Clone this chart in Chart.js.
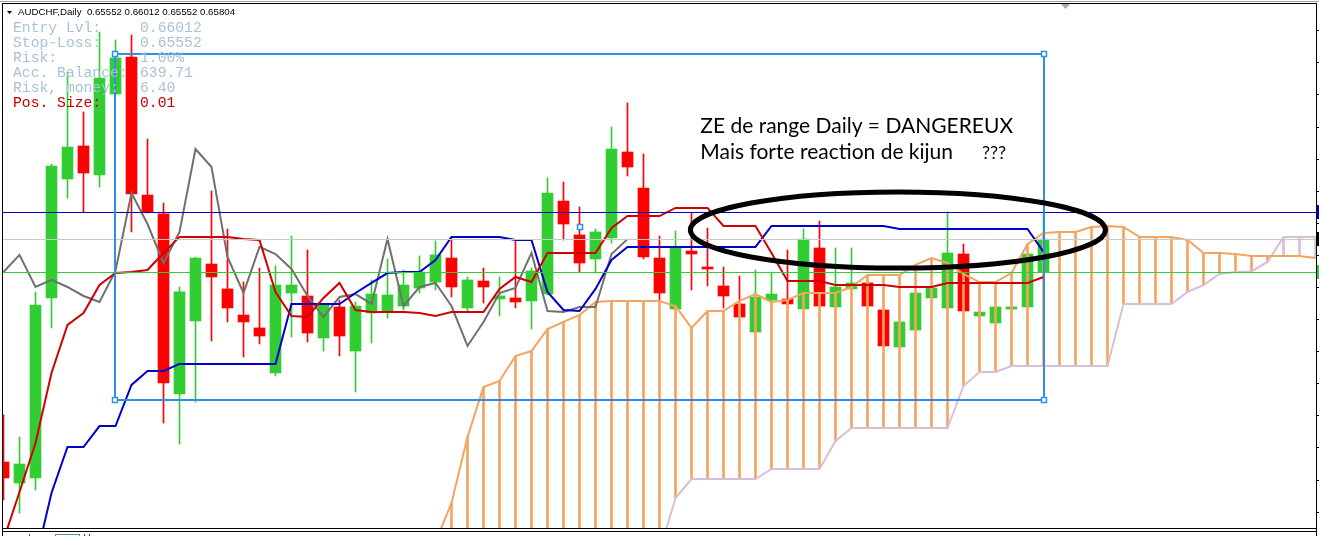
<!DOCTYPE html>
<html>
<head>
<meta charset="utf-8">
<title>AUDCHF,Daily</title>
<script src="https://cdn.jsdelivr.net/npm/chart.js@4.4.1/dist/chart.umd.min.js"></script>
<style>
  html, body { margin: 0; padding: 0; background: #fff; }
  #wrap { width: 1319px; height: 536px; position: relative; }
</style>
</head>
<body>
<div id="wrap"><canvas id="chart" width="1319" height="536"></canvas></div>
<script>
// AUDCHF Daily - candles + Ichimoku, with position size panel and notes

const symbolTitle = 'AUDCHF,Daily';
const lastBarOHLC = ['0.65552', '0.66012', '0.65552', '0.65804'];

// one entry per daily bar (oldest visible bar first)
const openPrices = [0.64095,0.63934,0.63973,0.65353,0.66265,0.66518,0.66296,0.66917,0.67200,0.66142,
  0.65997,0.64617,0.65176,0.65613,0.65422,0.65222,0.65123,0.64778,0.65391,0.65368,
  0.65046,0.65284,0.64946,0.65238,0.65253,0.65291,0.65429,0.65475,0.65659,0.65276,
  0.65483,0.65345,0.65353,0.65330,0.65383,0.66096,0.65836,0.65652,0.65813,0.66472,
  0.66196,0.65659,0.65268,0.65713,0.65590,0.65445,0.65307,0.65092,0.65337,0.65345,
  0.65268,0.65736,0.65284,0.65422,0.65468,0.65261,0.64977,0.65107,0.65353,0.65276,
  0.65690,0.65215,0.65161,0.65268,0.65284,0.65552];
const highPrices = [0.64456,0.64286,0.65399,0.66380,0.67085,0.66779,0.67392,0.67331,0.67369,0.66572,
  0.66081,0.65437,0.65667,0.66173,0.65882,0.65475,0.65583,0.65598,0.65828,0.65721,
  0.65307,0.65337,0.65322,0.65491,0.65652,0.65567,0.65675,0.65790,0.65821,0.65514,
  0.65583,0.65514,0.65797,0.65583,0.66273,0.66242,0.66050,0.65882,0.66664,0.66848,
  0.66457,0.65828,0.65866,0.66004,0.65889,0.65590,0.65521,0.65567,0.65552,0.65721,
  0.65882,0.65943,0.65736,0.65736,0.65483,0.65261,0.65169,0.65391,0.65429,0.66012,
  0.65767,0.65245,0.65284,0.65284,0.65690,0.66012];
const lowPrices = [0.63804,0.63704,0.63881,0.65123,0.66119,0.66012,0.66204,0.66909,0.65859,0.66004,
  0.64394,0.64233,0.64555,0.65023,0.65169,0.64900,0.65000,0.64755,0.65054,0.65015,
  0.64946,0.64908,0.64632,0.65008,0.65199,0.65261,0.65391,0.65414,0.65360,0.65245,
  0.65314,0.65215,0.65276,0.65115,0.65376,0.65797,0.65552,0.65544,0.65774,0.66288,
  0.65652,0.65337,0.65268,0.65414,0.65445,0.65276,0.65207,0.65092,0.65322,0.65299,
  0.65268,0.65291,0.65284,0.65414,0.65291,0.64985,0.64977,0.65107,0.65353,0.65276,
  0.65253,0.65215,0.65161,0.65268,0.65284,0.65552];
const closePrices = [0.63973,0.64080,0.65299,0.66365,0.66510,0.66311,0.67039,0.67193,0.66150,0.66012,
  0.64701,0.65399,0.65659,0.65514,0.65276,0.65169,0.65061,0.65452,0.65452,0.65084,
  0.65299,0.65061,0.65291,0.65383,0.65376,0.65452,0.65552,0.65683,0.65437,0.65491,
  0.65437,0.65368,0.65322,0.65560,0.66158,0.65920,0.65621,0.65859,0.66495,0.66357,
  0.65667,0.65391,0.65744,0.65690,0.65575,0.65368,0.65207,0.65360,0.65383,0.65307,
  0.65805,0.65291,0.65437,0.65468,0.65291,0.64985,0.65169,0.65391,0.65429,0.65698,
  0.65253,0.65245,0.65284,0.65284,0.65690,0.65804];

// Ichimoku lines
const tenkanSen = [0.63497,0.63865,0.64241,0.64778,0.65146,0.65238,0.65452,0.65544,0.65552,0.65567,
  0.65698,0.65821,0.65821,0.65821,0.65821,0.65805,0.65797,0.65399,0.65215,0.65207,
  0.65353,0.65468,0.65261,0.65245,0.65245,0.65245,0.65238,0.65215,0.65245,0.65245,
  0.65245,0.65422,0.65514,0.65475,0.65698,0.65698,0.65698,0.65698,0.65889,0.65981,
  0.65981,0.65981,0.66043,0.66043,0.66043,0.65905,0.65905,0.65905,0.65698,0.65483,
  0.65483,0.65483,0.65452,0.65452,0.65452,0.65452,0.65437,0.65437,0.65437,0.65468,
  0.65468,0.65468,0.65468,0.65468,0.65468,0.65514];
const kijunSen = [null,null,0.63336,0.63858,0.64210,0.64210,0.64371,0.64371,0.64686,0.64793,
  0.64793,0.64847,0.64847,0.64847,0.64847,0.64847,0.64847,0.64847,0.65307,0.65307,
  0.65307,0.65307,0.65391,0.65468,0.65544,0.65552,0.65552,0.65644,0.65821,0.65821,
  0.65821,0.65821,0.65797,0.65797,0.65399,0.65261,0.65253,0.65422,0.65644,0.65744,
  0.65744,0.65744,0.65744,0.65744,0.65744,0.65744,0.65744,0.65744,0.65905,0.65905,
  0.65905,0.65905,0.65905,0.65905,0.65905,0.65905,0.65882,0.65882,0.65882,0.65882,
  0.65882,0.65882,0.65882,0.65882,0.65882,0.65706];
const chikouShift = 26;

// cloud, starting at bar 27 and running 17 bars past the last candle
const cloudStart = 27;
const senkouA = [0.63482,0.63781,0.64286,0.64670,0.64716,0.64908,0.64946,0.65115,0.65169,0.65222,
  0.65322,0.65330,0.65330,0.65330,0.65330,0.65291,0.65123,0.65253,0.65253,0.65330,
  0.65383,0.65322,0.65337,0.65391,0.65391,0.65391,0.65437,0.65529,0.65529,0.65529,
  0.65606,0.65659,0.65621,0.65537,0.65475,0.65475,0.65544,0.65767,0.65851,0.65859,
  0.65859,0.65897,0.65905,0.65897,0.65821,0.65821,0.65821,0.65797,0.65698,0.65698,
  0.65690,0.65675,0.65675,0.65675,0.65675,0.65659];
const senkouB = [0.63344,0.63344,0.63344,0.63344,0.63344,0.63344,0.63344,0.63344,0.63344,0.63344,
  0.63344,0.63344,0.63344,0.63344,0.63405,0.63819,0.63965,0.63965,0.63965,0.63965,
  0.63965,0.64042,0.64042,0.64042,0.64042,0.64256,0.64356,0.64356,0.64356,0.64356,
  0.64356,0.64356,0.64356,0.64678,0.64785,0.64785,0.64831,0.64831,0.64831,0.64831,
  0.64831,0.64831,0.64831,0.65307,0.65307,0.65307,0.65307,0.65399,0.65452,0.65537,
  0.65552,0.65556,0.65629,0.65821,0.65821,0.65821];

// trade levels
const entryLevel = 0.66012;
const stopLoss = 0.65552;
const bidPrice = 0.65804;

// position size panel
const panelLabels = ['Entry Lvl:', 'Stop-Loss:', 'Risk:', 'Acc. Balance:', 'Risk, money:', 'Pos. Size:'];
const panelValues = ['0.66012', '0.65552', '1.00%', '639.71', '6.40', '0.01'];

// rectangle object (bars / prices)
const boxFromBar = 7, boxToBar = 65;
const boxTop = 0.67223, boxBottom = 0.64571;

// ellipse + note
const ellipseBar = 55.9, ellipsePrice = 0.65874;
const ellipseRadiusBars = 12.97, ellipseRadiusPrice = 0.00292;
const noteLines = ['ZE de range Daily = DANGEREUX', 'Mais forte reaction de kijun'];
const noteExtra = '???';
const noteBar = 43.55, noteExtraBar = 61.15;
const notePrices = [0.66618, 0.66418];

// price scale tick marks (labels are outside the picture)
const priceTicks = [0.67405,0.67159,0.66913,0.66667,0.66421,0.66175,0.65929,0.65683,
  0.65437,0.65191,0.64945,0.64699,0.64453,0.64207,0.63961,0.63715];

const bullColor = '#32cd32';
const bearColor = '#ff0000';

const barIdx = openPrices.map((_, i) => i);
const candleColors = barIdx.map(i => closePrices[i] >= openPrices[i] ? bullColor : bearColor);

const chikouData = barIdx
  .filter(i => i + chikouShift < closePrices.length)
  .map(i => ({ x: i, y: closePrices[i + chikouShift] }));

const overlayPlugin = {
  id: 'mt4Overlay',
  afterDraw(chart) {
    const { ctx, chartArea: a, scales: { x, y } } = chart;
    const W = chart.width;

    ctx.save();
    ctx.beginPath();
    ctx.rect(a.left, a.top, a.right - a.left, a.bottom - a.top);
    ctx.clip();

    // horizontal levels
    const hline = (price, color) => {
      const py = Math.round(y.getPixelForValue(price)) + 0.5;
      ctx.strokeStyle = color;
      ctx.lineWidth = 1;
      ctx.beginPath();
      ctx.moveTo(a.left, py);
      ctx.lineTo(a.right, py);
      ctx.stroke();
    };
    hline(bidPrice, '#c8c8c8');
    hline(stopLoss, '#33cc33');
    hline(entryLevel, '#0000c0');

    // rectangle
    const bx1 = Math.round(x.getPixelForValue(boxFromBar));
    const bx2 = Math.round(x.getPixelForValue(boxToBar));
    const by1 = Math.round(y.getPixelForValue(boxTop));
    const by2 = Math.round(y.getPixelForValue(boxBottom));
    ctx.strokeStyle = '#2f8fe8';
    ctx.lineWidth = 2;
    ctx.strokeRect(bx1, by1, bx2 - bx1, by2 - by1);
    const handle = (hx, hy) => {
      ctx.fillStyle = '#ffffff';
      ctx.fillRect(hx - 3, hy - 3, 6, 6);
      ctx.lineWidth = 1.5;
      ctx.strokeRect(hx - 2.5, hy - 2.5, 5, 5);
    };
    handle(bx1, by1);
    handle(bx2, by1);
    handle(bx2, by2);
    handle(bx1, by2);
    handle(Math.round((bx1 + bx2) / 2), Math.round((by1 + by2) / 2));

    // ellipse
    const ex = x.getPixelForValue(ellipseBar);
    const ey = y.getPixelForValue(ellipsePrice);
    const rx = x.getPixelForValue(ellipseBar + ellipseRadiusBars) - ex;
    const ry = ey - y.getPixelForValue(ellipsePrice + ellipseRadiusPrice);
    ctx.strokeStyle = '#000';
    ctx.lineWidth = 5;
    ctx.beginPath();
    ctx.ellipse(ex, ey, rx, ry, 0, 0, Math.PI * 2);
    ctx.stroke();

    // notes
    ctx.fillStyle = '#000';
    ctx.textBaseline = 'alphabetic';
    ctx.font = '21px Lato, "Open Sans", sans-serif';
    noteLines.forEach((t, k) => {
      ctx.fillText(t, x.getPixelForValue(noteBar), y.getPixelForValue(notePrices[k]));
    });
    ctx.font = '18px Lato, "Open Sans", sans-serif';
    ctx.fillText(noteExtra, x.getPixelForValue(noteExtraBar), y.getPixelForValue(notePrices[1]));

    // position size panel
    ctx.font = '14.7px "Liberation Mono", "DejaVu Sans Mono", monospace';
    panelLabels.forEach((t, k) => {
      ctx.fillStyle = k === panelLabels.length - 1 ? '#c80000' : '#a9c2d6';
      ctx.fillText(t, 13, 32 + k * 15);
      ctx.fillText(panelValues[k], 140, 32 + k * 15);
    });

    // header
    ctx.fillStyle = '#000';
    ctx.beginPath();
    ctx.moveTo(7, 11);
    ctx.lineTo(12, 11);
    ctx.lineTo(9.5, 14);
    ctx.closePath();
    ctx.fill();
    ctx.font = '9.7px "Liberation Sans", Arial, sans-serif';
    ctx.fillText(symbolTitle + '  ' + lastBarOHLC.join(' '), 18, 15);

    // chart shift marker
    ctx.fillStyle = '#a8a8a8';
    ctx.beginPath();
    ctx.moveTo(1061, 4);
    ctx.lineTo(1070, 4);
    ctx.lineTo(1065.5, 9);
    ctx.closePath();
    ctx.fill();
    ctx.restore();

    // frame
    ctx.save();
    ctx.fillStyle = '#a0a0a0';
    ctx.fillRect(0, 1, W, 1);
    ctx.fillStyle = '#000';
    ctx.fillRect(2, 3, 1315, 1);
    ctx.fillRect(2, 3, 1, 533);
    ctx.fillRect(1316, 3, 1, 533);
    ctx.fillRect(2, 528, 1315, 1);
    ctx.fillRect(2, 531, 1315, 1);

    // price scale ticks and cut-off level labels
    priceTicks.forEach(v => {
      const py = Math.round(y.getPixelForValue(v));
      ctx.fillRect(1317, py, 3, 1);
    });
    const tag = (price, color) => {
      const py = Math.round(y.getPixelForValue(price));
      ctx.fillStyle = color;
      ctx.fillRect(1317, py - 7, 3, 14);
    };
    tag(entryLevel, '#0000c0');
    tag(bidPrice, '#000000');
    tag(stopLoss, '#33cc33');

    // sub window stub
    ctx.fillStyle = '#5a8f8f';
    ctx.fillRect(55, 534, 25, 1);
    ctx.fillRect(55, 534, 1, 2);
    ctx.fillRect(79, 534, 1, 2);
    ctx.fillStyle = '#cc0000';
    ctx.fillRect(84, 534, 1, 2);
    ctx.fillRect(89, 534, 1, 2);
    ctx.fillStyle = '#555';
    ctx.fillRect(29, 534, 1, 2);
    ctx.restore();
  }
};

function initChart() {
  const canvas = document.getElementById('chart');
  const ctx = canvas.getContext('2d');

  new Chart(ctx, {
    type: 'bar',
    data: {
      datasets: [
        {
          type: 'line', label: 'Tenkan-sen',
          data: barIdx.map(i => ({ x: i, y: tenkanSen[i] })),
          borderColor: '#d00000', borderWidth: 2, pointRadius: 0, tension: 0, order: 1, clip: 0
        },
        {
          type: 'line', label: 'Kijun-sen',
          data: barIdx.map(i => ({ x: i, y: kijunSen[i] })),
          borderColor: '#0000cc', borderWidth: 2, pointRadius: 0, tension: 0, order: 1, clip: 0
        },
        {
          type: 'line', label: 'Chikou Span',
          data: chikouData,
          borderColor: '#707070', borderWidth: 2, pointRadius: 0, tension: 0, order: 1, clip: 0
        },
        {
          type: 'line', label: 'Senkou Span A',
          data: senkouA.map((v, k) => ({ x: cloudStart + k, y: v })),
          borderColor: '#f4a460', borderWidth: 2, pointRadius: 0, tension: 0, order: 2, clip: 0
        },
        {
          type: 'line', label: 'Senkou Span B',
          data: senkouB.map((v, k) => ({ x: cloudStart + k, y: v })),
          borderColor: '#d8bfd8', borderWidth: 2, pointRadius: 0, tension: 0, order: 2, clip: 0
        },
        {
          label: 'Kumo',
          data: senkouA.map((v, k) => ({ x: cloudStart + k, y: [v, senkouB[k]] })),
          backgroundColor: senkouA.map((v, k) => v >= senkouB[k] ? '#f4a460' : '#d8bfd8'),
          barThickness: 2, grouped: false, order: 3, clip: 0
        },
        {
          label: 'Body',
          data: barIdx.map(i => ({ x: i, y: [openPrices[i], closePrices[i]] })),
          backgroundColor: candleColors,
          barThickness: 11, minBarLength: 2, grouped: false, order: 4, clip: 0
        },
        {
          label: 'Wick',
          data: barIdx.map(i => ({ x: i, y: [lowPrices[i], highPrices[i]] })),
          backgroundColor: candleColors,
          barThickness: 1, grouped: false, order: 5, clip: 0
        }
      ]
    },
    options: {
      responsive: false,
      animation: false,
      devicePixelRatio: 1,
      events: [],
      layout: { padding: { left: 3, right: 3, top: 3, bottom: 8 } },
      plugins: { legend: { display: false }, tooltip: { enabled: false } },
      scales: {
        x: { type: 'linear', display: false, offset: false, min: -0.03125, max: 82.03125 },
        y: { type: 'linear', display: false, min: 0.635892, max: 0.676144 }
      }
    },
    plugins: [overlayPlugin]
  });
}

document.addEventListener('DOMContentLoaded', initChart);
</script>
</body>
</html>
